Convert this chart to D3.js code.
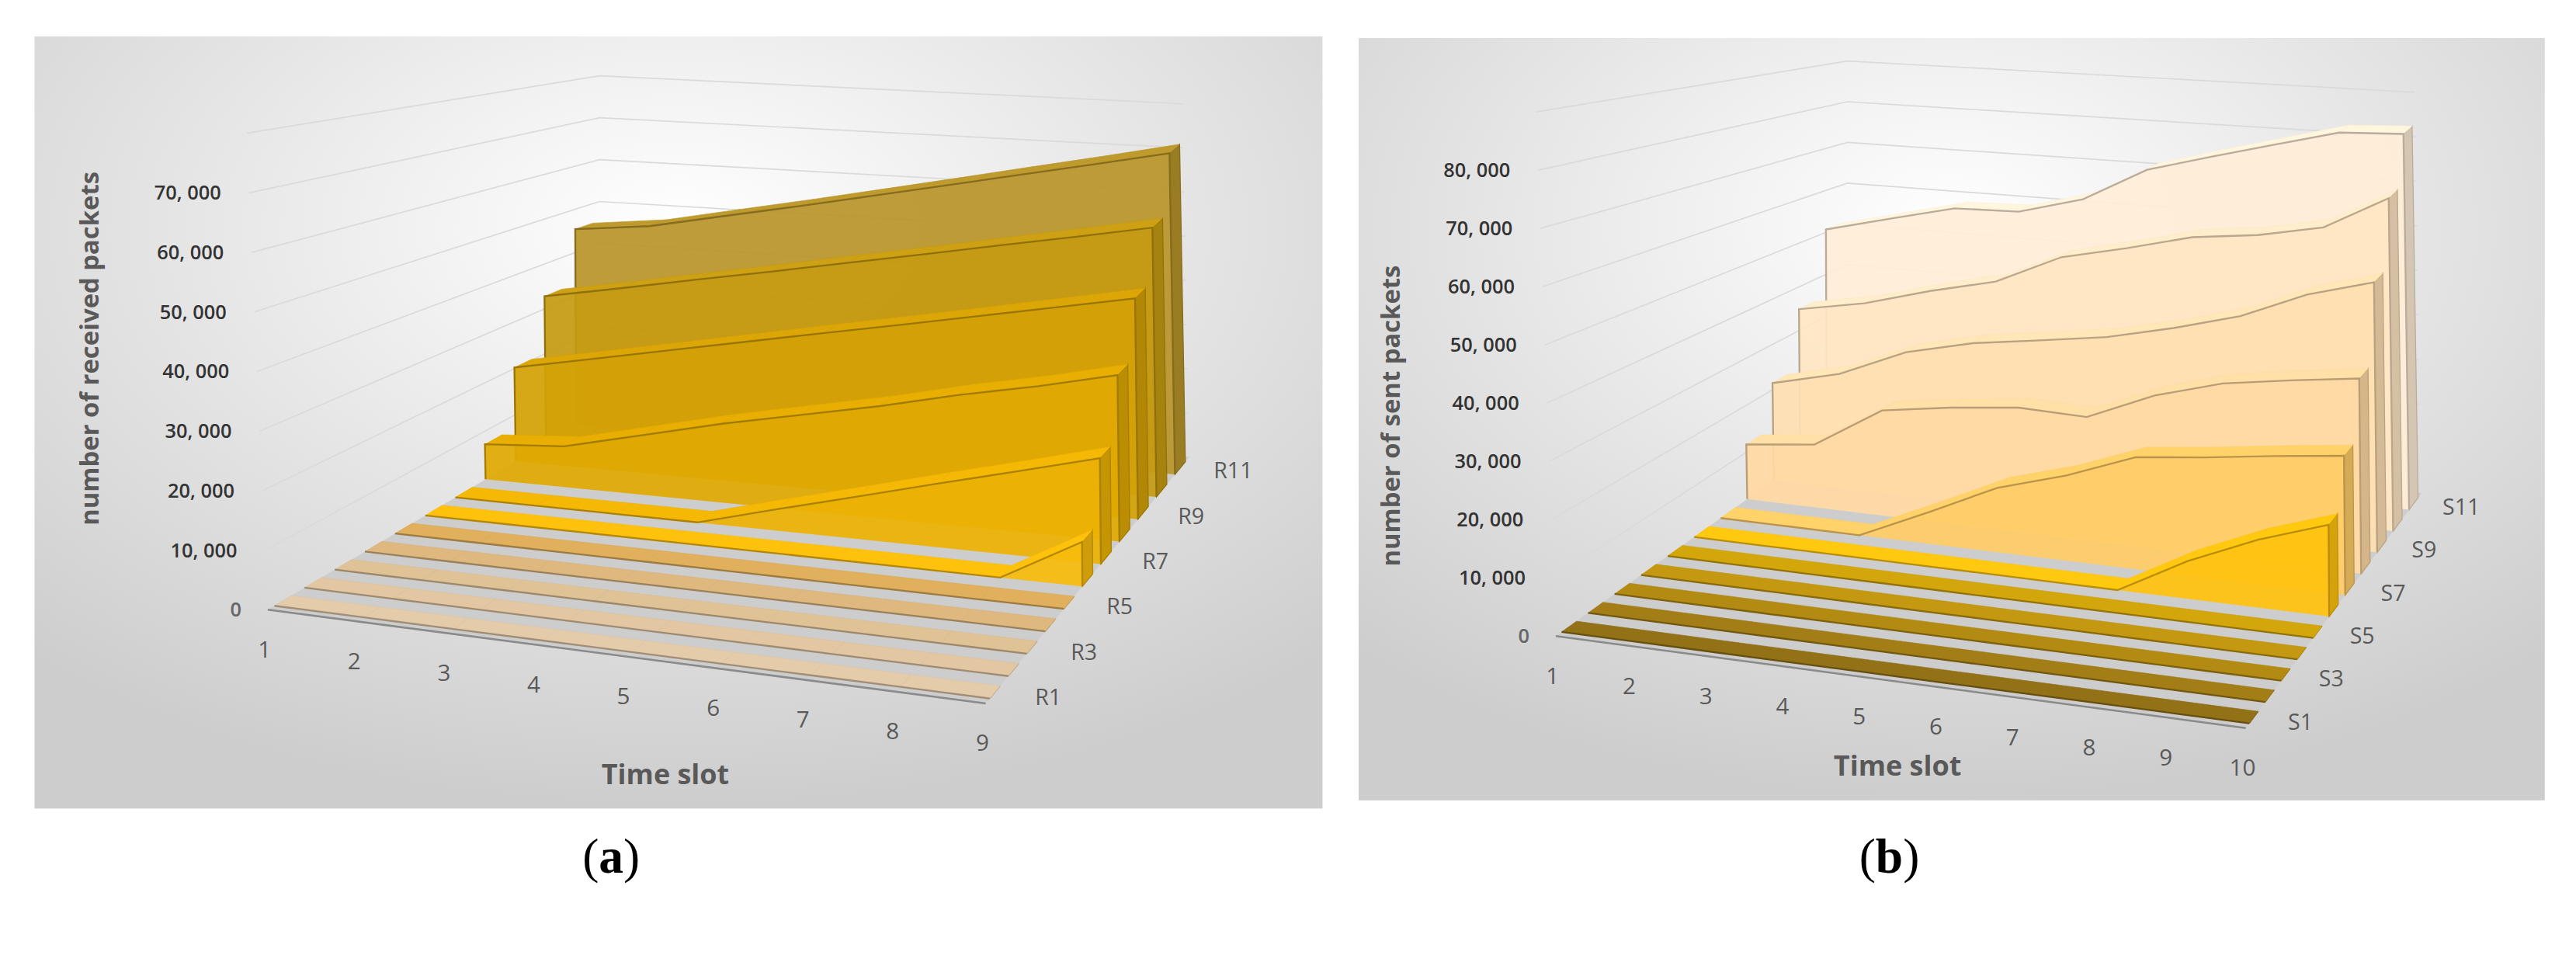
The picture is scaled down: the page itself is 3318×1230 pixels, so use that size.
<!DOCTYPE html>
<html>
<head>
<meta charset="utf-8">
<script src="https://cdn.jsdelivr.net/npm/d3@7"></script>
<style>
  body { margin: 0; background: #fff; }
  text { font-family: "Open Sans", sans-serif; }
</style>
</head>
<body>
<svg id="chart"></svg>
<script>
// ---- data ----
var timeA = [1, 2, 3, 4, 5, 6, 7, 8, 9];
var seriesA = ["R1", "R2", "R3", "R4", "R5", "R6", "R7", "R8", "R9", "R10", "R11"];
var valuesA = [
    [0, 0, 0, 0, 0, 0, 0, 0, 0],
    [0, 0, 0, 0, 0, 0, 0, 0, 0],
    [0, 0, 0, 0, 0, 0, 0, 0, 0],
    [0, 0, 0, 0, 0, 0, 0, 0, 0],
    [0, 0, 0, 0, 0, 0, 0, 0, 0],
    [0, 0, 0, 0, 0, 0, 0, 0, 9000],
    [0, 0, 0, 0, 4400, 8700, 13100, 17400, 21800],
    [7300, 8500, 12500, 16500, 20000, 23500, 27500, 31000, 35000],
    [20200, 23600, 27000, 30400, 33800, 37100, 40500, 43900, 47300],
    [32800, 36000, 39300, 42500, 45800, 49000, 52300, 55500, 58800],
    [45400, 47300, 50800, 54200, 57700, 61200, 64700, 68100, 71600]
];
var ticksA = [0, 10000, 20000, 30000, 40000, 50000, 60000, 70000];
var labelsA = ["R1", "R3", "R5", "R7", "R9", "R11"];

var timeB = [1, 2, 3, 4, 5, 6, 7, 8, 9, 10];
var seriesB = ["S1", "S2", "S3", "S4", "S5", "S6", "S7", "S8", "S9", "S10", "S11"];
var valuesB = [
    [0, 0, 0, 0, 0, 0, 0, 0, 0, 0],
    [0, 0, 0, 0, 0, 0, 0, 0, 0, 0],
    [0, 0, 0, 0, 0, 0, 0, 0, 0, 0],
    [0, 0, 0, 0, 0, 0, 0, 0, 0, 0],
    [0, 0, 0, 0, 0, 0, 0, 0, 0, 0],
    [0, 0, 0, 0, 0, 0, 0, 7600, 13700, 18500],
    [0, 0, 0, 6500, 13300, 17600, 23100, 24800, 26800, 28600],
    [11700, 13400, 22400, 24700, 26400, 26100, 32300, 36500, 38800, 40800],
    [21500, 25200, 31600, 35200, 37400, 39700, 43200, 47300, 53400, 57500],
    [34900, 37800, 42100, 45700, 52600, 56000, 59800, 61600, 64600, 72200],
    [50700, 54600, 58300, 58800, 62900, 70800, 74900, 78700, 82400, 83100]
];
var ticksB = [0, 10000, 20000, 30000, 40000, 50000, 60000, 70000, 80000];
var labelsB = ["S1", "S3", "S5", "S7", "S9", "S11"];

var colorsA = ["#dcc4a4", "#dac09c", "#d8bb92", "#d6b27a", "#d8aa5a", "#f7bb0c",
               "#ecb204", "#e0a902", "#d4a106", "#c69b12", "#b8952a"];
var colorsB = ["#8e6d16", "#9d7914", "#ad8612", "#bd930f", "#cca00b", "#ffc20e",
               "#ffcc66", "#ffd9a2", "#ffdfb2", "#ffe6c4", "#ffedd6"];

// ---- drawing ----
var svg = d3.select("#chart")
    .attr("width", 3318).attr("height", 1230)
    .attr("viewBox", "0 0 1568 581");

var defs = svg.append("defs");
var grad = defs.append("radialGradient").attr("id", "bg")
    .attr("cx", "50%").attr("cy", "25%").attr("r", "75%");
grad.append("stop").attr("offset", "0%").attr("stop-color", "#ffffff");
grad.append("stop").attr("offset", "100%").attr("stop-color", "#cdcdcd");

function lerp(p, q, f) { return [p[0] + (q[0] - p[0]) * f, p[1] + (q[1] - p[1]) * f]; }

function makeProj(c, nT, nZ, vMax) {
    var ts = d3.scaleLinear().domain([0, nT - 1]).range([0, 1]);
    var zs = d3.scaleLinear().domain([0, nZ]).range([0, 1]);
    var vs = d3.scaleLinear().domain([0, vMax]).range([0, 1]);
    return function(t, z, v) {
        var a = ts(t), b = zs(z), h = vs(v);
        var lo = lerp(lerp(c.fl0, c.fr0, a), lerp(c.bl0, c.br0, a), b);
        var hi = lerp(lerp(c.fl1, c.fr1, a), lerp(c.bl1, c.br1, a), b);
        return lerp(lo, hi, h);
    };
}

function drawPanel(o) {
    var g = svg.append("g");
    g.append("rect").attr("x", o.box[0]).attr("y", o.box[1])
        .attr("width", o.box[2]).attr("height", o.box[3]).attr("fill", "url(#bg)");

    var nT = o.time.length, nZ = o.series.length;
    var P = makeProj(o.corners, nT, nZ, o.vMax);
    var line = d3.line();
    var grid = o.ticks.slice(1).concat([o.vMax]);

    // walls
    grid.forEach(function(v) {
        g.append("path").attr("d", line([P(0, 0, v), P(0, nZ, v), P(nT - 1, nZ, v)]))
            .attr("fill", "none").attr("stroke", "#dadada").attr("stroke-width", 0.8);
    });

    // floor
    g.append("path").attr("d", line([P(0, 0, 0), P(nT - 1, 0, 0), P(nT - 1, nZ, 0), P(0, nZ, 0)]) + "Z")
        .attr("fill", "#cdcdcd");

    // series, back to front
    for (var i = nZ - 1; i >= 0; i--) {
        var vals = o.values[i], col = d3.color(o.colors[i]);
        var zf = i + 0.22, zb = i + 0.78;
        var edge = col.darker(0.9).formatHex();
        var last = nT - 1;
        g.append("path").attr("d", line([P(last, zf, 0), P(last, zf, vals[last]), P(last, zb, vals[last]), P(last, zb, 0)]) + "Z")
            .attr("fill", col.darker(0.5).formatHex()).attr("stroke", edge).attr("stroke-width", 0.6);
        for (var t = 0; t < last; t++) {
            g.append("path").attr("d", line([P(t, zf, vals[t]), P(t + 1, zf, vals[t + 1]), P(t + 1, zb, vals[t + 1]), P(t, zb, vals[t])]) + "Z")
                .attr("fill", col.brighter(0.1).formatHex()).attr("stroke", col.formatHex()).attr("stroke-width", 0.3);
        }
        var pts = o.time.map(function(d, k) { return P(k, zf, vals[k]); });
        if (d3.max(vals) > 0) {
            g.append("path").attr("d", line(pts.concat([P(last, zf, 0), P(0, zf, 0)])) + "Z")
                .attr("fill", col.formatHex()).attr("fill-opacity", 0.93);
        }
        g.append("path").attr("d", line([P(0, zf, 0)].concat(pts).concat([P(last, zf, 0)])))
            .attr("fill", "none").attr("stroke", edge).attr("stroke-width", 1.1);
    }

    g.append("path").attr("d", line([P(0, 0, 0), P(nT - 1, 0, 0)]))
        .attr("stroke", "#8a8a8a").attr("stroke-width", 1.2);

    o.ticks.forEach(function(v) {
        var p = P(0, 0, v);
        g.append("text").attr("x", p[0] - (v === 0 ? 16 : 17)).attr("y", p[1]).attr("dy", "0.35em")
            .attr("text-anchor", "end").attr("font-size", 12).attr("font-weight", 600)
            .attr("fill", v === 0 ? "#666" : "#333")
            .text(v === 0 ? "0" : d3.format(",")(v).replace(",", ", "));
    });
    o.time.forEach(function(d, k) {
        var p = P(k, 0, 0);
        g.append("text").attr("x", p[0] - 2).attr("y", p[1] + 29)
            .attr("text-anchor", "middle").attr("font-size", 14).attr("fill", "#595959").text(d);
    });
    o.series.forEach(function(s, k) {
        if (o.labels.indexOf(s) < 0) return;
        var p = P(nT - 1 + 0.45, k + 0.5, 0);
        g.append("text").attr("x", p[0]).attr("y", p[1]).attr("dy", "0.35em")
            .attr("font-size", 13.5).attr("fill", "#595959").text(s);
    });
    g.append("text").attr("transform", "translate(" + o.yTitle[0] + "," + o.yTitle[1] + ") rotate(-90)")
        .attr("text-anchor", "middle").attr("font-size", 15.5).attr("font-weight", 700)
        .attr("fill", "#595959").text(o.yText);
    g.append("text").attr("x", o.xTitle[0]).attr("y", o.xTitle[1])
        .attr("text-anchor", "middle").attr("font-size", 17).attr("font-weight", 700)
        .attr("fill", "#595959").text("Time slot");
    var cap = svg.append("text").attr("x", o.cap[0]).attr("y", o.cap[1]).attr("text-anchor", "middle")
        .attr("font-size", 30).style("font-family", "'Liberation Serif', serif").attr("fill", "#000");
    cap.append("tspan").text("(");
    cap.append("tspan").attr("font-weight", 700).text(o.capLetter);
    cap.append("tspan").text(")");
}

drawPanel({
    box: [21, 22, 784, 470],
    time: timeA, series: seriesA, values: valuesA, colors: colorsA,
    ticks: ticksA, labels: labelsA, vMax: 80000,
    corners: { fl0: [163, 371], fr0: [600, 428], bl0: [365, 250], br0: [724, 278],
               fl1: [150, 81], fr1: [600, 164], bl1: [365, 46], br1: [720, 63] },
    yTitle: [60, 212], yText: "number of received packets",
    xTitle: [405, 477], cap: [372, 531], capLetter: "a"
});

drawPanel({
    box: [827, 23, 722, 464],
    time: timeB, series: seriesB, values: valuesB, colors: colorsB,
    ticks: ticksB, labels: labelsB, vMax: 90000,
    corners: { fl0: [947, 387], fr0: [1367, 443], bl0: [1124.5, 260], br0: [1474, 300],
               fl1: [935, 68], fr1: [1367, 146], bl1: [1124.5, 37], br1: [1470, 56] },
    yTitle: [852, 253], yText: "number of sent packets",
    xTitle: [1155, 472], cap: [1150, 531], capLetter: "b"
});
</script>
</body>
</html>
